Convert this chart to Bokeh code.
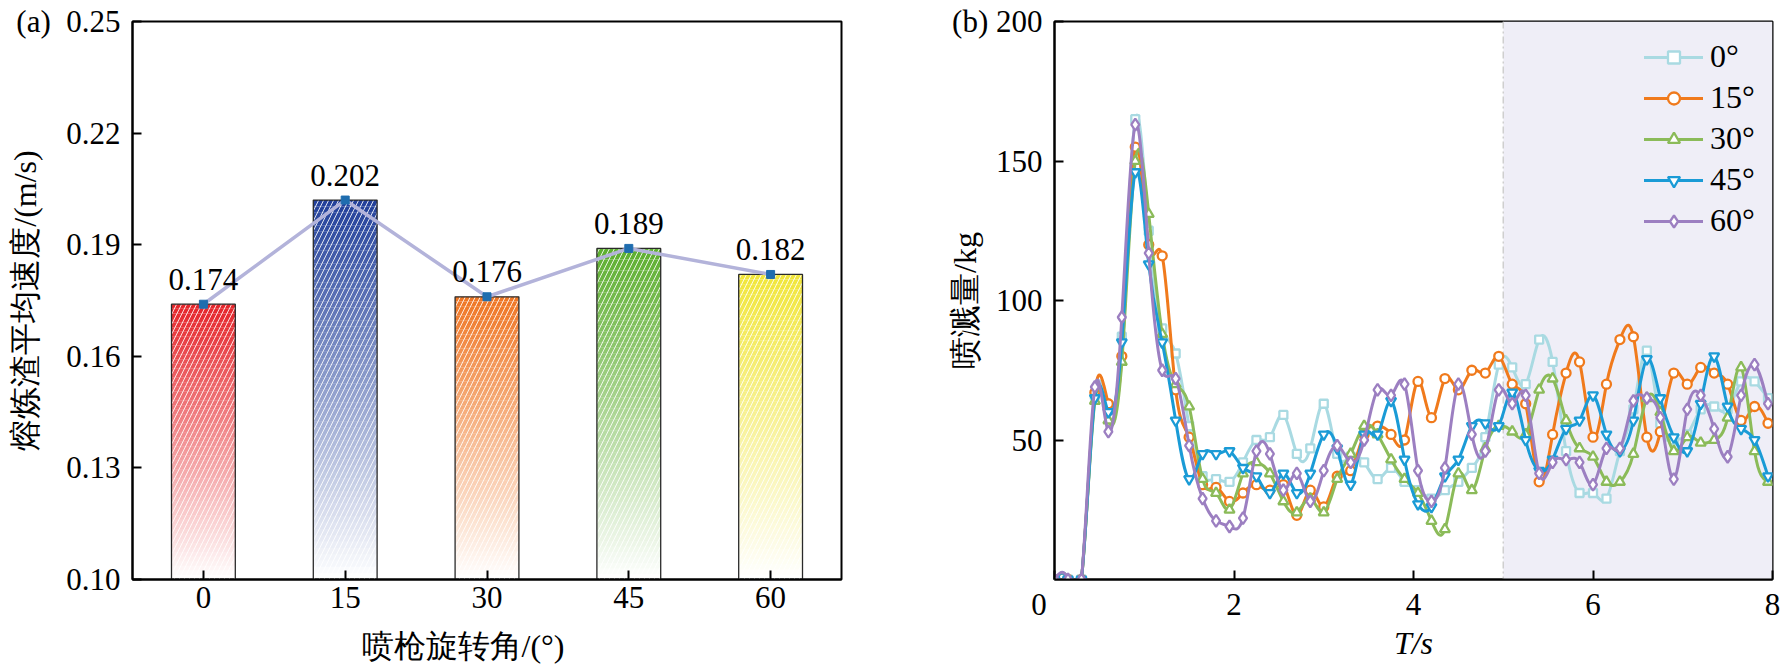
import numpy as np
from bokeh.plotting import figure
from bokeh.models import (Range1d, FixedTicker, PrintfTickFormatter,
                          BoxAnnotation, Span, Legend, LegendItem, ColumnDataSource)
from bokeh.layouts import row
from bokeh.embed import file_html
from bokeh.resources import INLINE
from bokeh.core.properties import value

# ---------------- data: panel (a) ----------------
angles = ["0", "15", "30", "45", "60"]
mean_speed = [0.174, 0.202, 0.176, 0.189, 0.182]
speed_labels = ["0.174", "0.202", "0.176", "0.189", "0.182"]
speed_ticks = [0.10, 0.13, 0.16, 0.19, 0.22, 0.25]

# ---------------- data: panel (b) ----------------
time_s = [0.00, 0.15, 0.30, 0.45, 0.60, 0.75, 0.90, 1.05, 1.20, 1.35,
          1.50, 1.65, 1.80, 1.95, 2.10, 2.25, 2.40, 2.55, 2.70, 2.85,
          3.00, 3.15, 3.30, 3.45, 3.60, 3.75, 3.90, 4.05, 4.20, 4.35,
          4.50, 4.65, 4.80, 4.95, 5.10, 5.25, 5.40, 5.55, 5.70, 5.85,
          6.00, 6.15, 6.30, 6.45, 6.60, 6.75, 6.90, 7.05, 7.20, 7.35,
          7.50, 7.65, 7.80, 7.95]
splash_0 = [0, 0, 0, 66, 61, 87, 165, 125, 90, 81,
            55, 37, 36, 35, 42, 50, 51, 59, 45, 47,
            63, 45, 44, 42, 36, 40, 35, 32, 29, 32,
            35, 40, 51, 77, 76, 70, 86, 78, 46, 31,
            31, 29, 46, 61, 82, 56, 50, 52, 61, 62,
            61, 71, 71, 65]
splash_15 = [0, 0, 0, 67, 63, 80, 155, 120, 116, 68,
             51, 34, 33, 28, 31, 34, 32, 34, 23, 32,
             26, 37, 39, 52, 55, 52, 50, 71, 58, 72,
             68, 75, 74, 80, 70, 63, 35, 52, 74, 78,
             51, 70, 86, 87, 51, 53, 74, 70, 76, 74,
             70, 57, 62, 56]
splash_30 = [0, 0, 0, 64, 57, 78, 150, 131, 88, 70,
             62, 36, 31, 25, 38, 42, 38, 28, 24, 29,
             24, 36, 45, 55, 52, 43, 36, 31, 21, 18,
             38, 32, 47, 55, 53, 52, 68, 72, 57, 47,
             44, 35, 35, 45, 65, 60, 46, 51, 49, 50,
             58, 76, 46, 35]
splash_45 = [0, 0, 0, 65, 60, 85, 146, 113, 85, 57,
             36, 45, 45, 46, 40, 37, 31, 38, 31, 38,
             52, 47, 34, 52, 52, 64, 43, 27, 26, 37,
             43, 55, 56, 55, 67, 50, 39, 43, 54, 57,
             66, 52, 46, 57, 79, 65, 51, 46, 63, 80,
             62, 54, 50, 37]
splash_60 = [0, 0, 0, 69, 53, 94, 163, 117, 75, 72,
             48, 29, 21, 19, 22, 46, 45, 32, 38, 28,
             39, 48, 42, 50, 68, 66, 70, 39, 28, 40,
             70, 52, 46, 68, 63, 66, 38, 42, 43, 42,
             34, 47, 47, 64, 65, 58, 36, 61, 66, 54,
             44, 66, 77, 63]
series_labels = ["0°", "15°", "30°", "45°", "60°"]
x_ticks_b = [0, 2, 4, 6, 8]
y_ticks_b = [50, 100, 150, 200]

# ---------------- styles ----------------
SERIF = "Liberation Serif"
NB = "\u00a0"
bar_colors = ["#E5252A", "#22409A", "#EF7624", "#5DAF2F", "#F1E63A"]
series_colors = ["#A9DAE2", "#F07A1C", "#8BBB59", "#1A9BD6", "#9C7FC1"]
series_markers = ["square", "circle", "triangle", "inverted_triangle", "diamond"]
series_sizes = [8, 9, 10, 10, 12]

FIG_H = 668
FRAME_TOP = 21
FRAME_H = 558


def style_axes(p):
    p.xgrid.visible = False
    p.ygrid.visible = False
    p.outline_line_color = "black"
    p.outline_line_width = 2
    p.outline_line_alpha = 1
    for ax in (p.xaxis[0], p.yaxis[0]):
        ax.axis_line_width = 2
        ax.axis_line_color = "black"
        ax.major_tick_line_width = 2
        ax.major_tick_line_color = "black"
        ax.major_tick_in = 9
        ax.major_tick_out = 0
        ax.minor_tick_line_color = None
        ax.major_label_text_font = SERIF
        ax.major_label_text_font_size = "31px"
        ax.major_label_text_color = "black"
        ax.major_label_text_line_height = 1.0
        ax.axis_label_text_font = SERIF
        ax.axis_label_text_font_size = "32px"
        ax.axis_label_text_font_style = "normal"
        ax.axis_label_text_color = "black"
        ax.axis_label_text_line_height = 1.0


# ================= panel (a) =================
p1 = figure(width=900, height=FIG_H, output_backend="svg", toolbar_location=None,
            x_range=Range1d(-0.5, 4.5), y_range=Range1d(0.10, 0.25),
            min_border_left=132, min_border_right=59,
            min_border_top=FRAME_TOP, min_border_bottom=FIG_H - FRAME_TOP - FRAME_H)
style_axes(p1)

idx = np.arange(len(angles))
bar_w = 0.45
base = speed_ticks[0]

# vertical gradient (colour at the top fading to white at the base)
n_steps = 60
gl, gr, gb, gt, gc, ga = [], [], [], [], [], []
for i, v in enumerate(mean_speed):
    edges = np.linspace(base, v, n_steps + 1)
    for k in range(n_steps):
        gl.append(idx[i] - bar_w / 2)
        gr.append(idx[i] + bar_w / 2)
        gb.append(edges[k])
        gt.append(edges[k + 1])
        gc.append(bar_colors[i])
        ga.append((k + 0.5) / n_steps)
p1.quad(left=gl, right=gr, bottom=gb, top=gt, fill_color=gc, fill_alpha=ga,
        line_color=None)

p1.vbar(x=idx, top=mean_speed, bottom=base, width=bar_w, fill_color=None,
        line_color="#2a2a2a", line_width=1.3,
        hatch_pattern="/", hatch_color="white", hatch_alpha=0.85,
        hatch_scale=10, hatch_weight=1)

p1.line(x=idx, y=mean_speed, line_color="#B3B3DA", line_width=3.5)
p1.scatter(x=idx, y=mean_speed, marker="square", size=8,
           fill_color="#1F6DAF", line_color="#1F6DAF")

p1.text(x=idx, y=mean_speed, text=speed_labels, text_align="center",
        text_baseline="alphabetic", y_offset=-25,
        text_font=value(SERIF), text_font_size="31px", text_color="black")

p1.xaxis.ticker = FixedTicker(ticks=list(idx))
p1.xaxis.major_label_overrides = {int(i): a for i, a in zip(idx, angles)}
p1.xaxis.major_label_standoff = 7
p1.xaxis.axis_label = "喷枪旋转角/(°)" + NB * 6
p1.xaxis.axis_label_standoff = 17
p1.yaxis.ticker = FixedTicker(ticks=speed_ticks)
p1.yaxis.formatter = PrintfTickFormatter(format="%.2f")
p1.yaxis.major_label_overrides = {speed_ticks[-1]: "(a)" + NB * 2 + "0.25"}
p1.yaxis.major_label_standoff = 12
p1.yaxis.axis_label = "熔炼渣平均速度/(m/s)"
p1.yaxis.axis_label_standoff = -30

# ================= panel (b) =================
p2 = figure(width=885, height=FIG_H, output_backend="svg", toolbar_location=None,
            x_range=Range1d(0, 8), y_range=Range1d(0, 200),
            min_border_left=154, min_border_right=13,
            min_border_top=FRAME_TOP, min_border_bottom=FIG_H - FRAME_TOP - FRAME_H)
style_axes(p2)

p2.add_layout(BoxAnnotation(left=5, right=8, fill_color="#EFEEF7", fill_alpha=1.0,
                            line_color=None, level="underlay"))
p2.add_layout(Span(location=5, dimension="height", line_color="#CFCFCF",
                   line_width=1.5, line_dash="7 3 2 3", level="underlay"))


def spline_source(t, v):
    """Natural cubic spline through the data points, as Bezier segments."""
    t = np.asarray(t, float)
    v = np.asarray(v, float)
    n = len(t)
    h = np.diff(t)
    A = np.zeros((n, n))
    b = np.zeros(n)
    A[0, 0], A[0, 1] = 2 / h[0], 1 / h[0]
    b[0] = 3 * (v[1] - v[0]) / h[0] ** 2
    for i in range(1, n - 1):
        A[i, i - 1] = 1 / h[i - 1]
        A[i, i] = 2 * (1 / h[i - 1] + 1 / h[i])
        A[i, i + 1] = 1 / h[i]
        b[i] = 3 * ((v[i] - v[i - 1]) / h[i - 1] ** 2 + (v[i + 1] - v[i]) / h[i] ** 2)
    A[n - 1, n - 2], A[n - 1, n - 1] = 1 / h[-1], 2 / h[-1]
    b[n - 1] = 3 * (v[-1] - v[-2]) / h[-1] ** 2
    d = np.linalg.solve(A, b)
    return ColumnDataSource(dict(
        x0=t[:-1], y0=v[:-1], x1=t[1:], y1=v[1:],
        cx0=t[:-1] + h / 3, cy0=v[:-1] + d[:-1] * h / 3,
        cx1=t[1:] - h / 3, cy1=v[1:] - d[1:] * h / 3))


all_series = [splash_0, splash_15, splash_30, splash_45, splash_60]
items = []
for vals, lab, col, mk, sz in zip(all_series, series_labels, series_colors,
                                  series_markers, series_sizes):
    src = spline_source(time_s, vals)
    r_line = p2.bezier(x0="x0", y0="y0", x1="x1", y1="y1", cx0="cx0", cy0="cy0",
                       cx1="cx1", cy1="cy1", source=src, line_color=col,
                       line_width=3, line_cap="round")
    r_pts = p2.scatter(x=time_s, y=vals, marker=mk, size=sz, fill_color="white",
                       line_color=col, line_width=2.3)
    items.append(LegendItem(label=lab, renderers=[r_line, r_pts]))

legend = Legend(items=items, location=(590, 340), border_line_color=None,
                background_fill_alpha=0, label_text_font=SERIF,
                label_text_font_size="32px", label_text_color="black",
                glyph_width=59, glyph_height=30, label_height=30, spacing=4,
                padding=10, margin=0, label_standoff=7)
p2.add_layout(legend)

p2.xaxis.ticker = FixedTicker(ticks=x_ticks_b)
p2.xaxis.major_label_overrides = {0: "0" + NB * 4}
p2.xaxis.major_label_standoff = 7
p2.xaxis.axis_label = "T/s"
p2.xaxis.axis_label_text_font_style = "italic"
p2.xaxis.axis_label_standoff = 0
p2.yaxis.ticker = FixedTicker(ticks=y_ticks_b)
p2.yaxis.major_label_overrides = {y_ticks_b[-1]: "(b)" + NB + "200"}
p2.yaxis.major_label_standoff = 12
p2.yaxis.axis_label = "喷溅量/kg"
p2.yaxis.axis_label_standoff = -34

layout = row(p1, p2)
open("out.html", "w").write(file_html(layout, INLINE))
